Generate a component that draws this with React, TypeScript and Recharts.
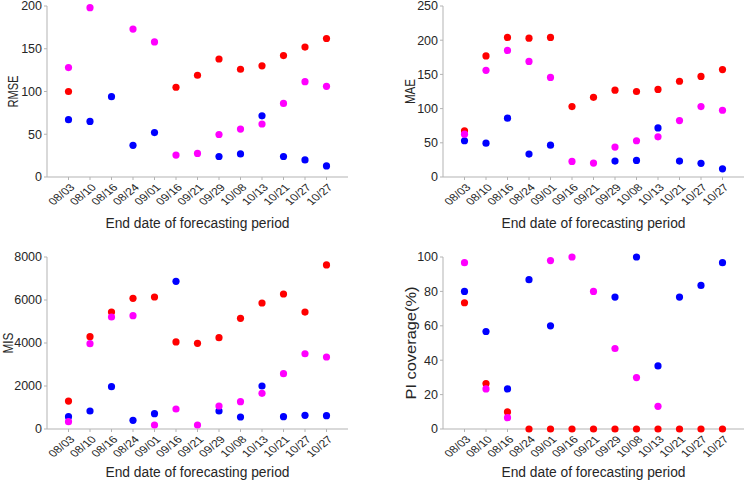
import React from 'react';
import { ScatterChart, Scatter, XAxis, YAxis } from 'recharts';

const dates = ['08/03', '08/10', '08/16', '08/24', '09/01', '09/16', '09/21', '09/29', '10/08', '10/13', '10/21', '10/27', '10/27'];

const rmseRed = [100, null, null, null, null, 105, 119, 138, 126, 130, 142, 152, 162];
const rmseBlue = [67, 65, 94, 37, 52, null, null, 24, 27, 71.5, 24, 20, 13];
const rmseMagenta = [128, 198, null, 173, 158, 25.6, 27.6, 49.7, 56, 62, 86, 111.5, 106];

const maeRed = [67.5, 177, 204, 203, 204, 103, 116.5, 127, 125, 128, 140, 147, 157];
const maeBlue = [53, 49.5, 86, 33.5, 46.6, null, null, 23.3, 24.3, 71.8, 23.3, 20, 12];
const maeMagenta = [62.6, 156, 185, 169, 145.6, 22.8, 20.4, 43.7, 53, 58.7, 82.5, 103, 97.6];

const misRed = [1300, 4295, 5440, 6080, 6140, 4050, 3985, 4250, 5150, 5860, 6280, 5440, 7630];
const misBlue = [574, 837, 1970, 403, 713, 6870, null, 837, 558, 2000, 574, 636, 620];
const misMagenta = [341, 3970, 5210, 5270, 186, 930, 186, 1070, 1270, 1660, 2575, 3500, 3350];

const piRed = [73.4, 26.4, 9.9, 0, 0, 0, 0, 0, 0, 0, 0, 0, 0];
const piBlue = [80, 56.7, 23.3, 86.8, 60, null, null, 76.7, 100, 36.7, 76.7, 83.5, 96.7];
const piMagenta = [96.7, 23.3, 6.6, null, 97.9, 100, 80, 46.8, 29.9, 13.2, null, null, null];

const rmseTicks = [0, 50, 100, 150, 200];
const maeTicks = [0, 50, 100, 150, 200, 250];
const misTicks = [0, 2000, 4000, 6000, 8000];
const piTicks = [0, 20, 40, 60, 80, 100];
const xTicks = dates.map((_, i) => i + 1);

const FONT = '"Liberation Sans", Arial, Helvetica, sans-serif';
const AXIS = '#b3b3b3';
const TEXT = '#262626';

const toPoints = (arr: (number | null)[]) =>
  arr.map((v, i) => (v === null ? null : { x: i + 1, y: v })).filter((p) => p !== null) as { x: number; y: number }[];

const Dot = (props: any) => {
  const { cx, cy, fill } = props;
  if (cx == null || cy == null || isNaN(cx) || isNaN(cy)) return null;
  return <circle cx={cx} cy={cy} r={3.6} fill={fill} />;
};

const XTick = (props: any) => {
  const { x, y, payload } = props;
  const label = dates[payload.value - 1] ?? '';
  const tx = x + 7;
  const ty = y + 7;
  return (
    <text transform={`translate(${tx} ${ty}) scale(1 0.8) rotate(-45)`} x={0} y={0} textAnchor="end" fontSize={12.5} fill={TEXT} fontFamily={FONT}>
      {label}
    </text>
  );
};

const YTitle = (props: any) => {
  const { viewBox, txt, px, len } = props;
  const cy = viewBox.y + viewBox.height / 2;
  return (
    <text x={px} y={cy} transform={`rotate(-90 ${px} ${cy})`} textAnchor="middle" dominantBaseline="central" fontSize={14.5} fill={TEXT} fontFamily={FONT} textLength={len} lengthAdjust="spacingAndGlyphs">
      {txt}
    </text>
  );
};

const XTitle = (props: any) => {
  const { viewBox, off } = props;
  const cx = viewBox.x + viewBox.width / 2;
  const cy = viewBox.y + off;
  return (
    <text x={cx} y={cy} textAnchor="middle" dominantBaseline="central" fontSize={14} fill={TEXT} fontFamily={FONT} textLength={184} lengthAdjust="spacingAndGlyphs">
      End date of forecasting period
    </text>
  );
};

type PanelProps = {
  left: number;
  top: number;
  yWidth: number;
  rightMargin: number;
  topMargin: number;
  xHeight: number;
  xTitleOff: number;
  title: string;
  titleX: number;
  titleLen: number;
  ticks: number[];
  red: (number | null)[];
  blue: (number | null)[];
  magenta: (number | null)[];
};

const Panel = ({ left, top, yWidth, rightMargin, topMargin, xHeight, xTitleOff, title, titleX, titleLen, ticks, red, blue, magenta }: PanelProps) => {
  const W = 373;
  const H = 242;
  return (
    <div style={{ position: 'absolute', left, top, width: W, height: H }}>
      <ScatterChart width={W} height={H} margin={{ top: topMargin, right: rightMargin, bottom: 0, left: 0 }} style={{ overflow: 'visible' }}>
        <XAxis
          type="number"
          dataKey="x"
          domain={[0, 14]}
          ticks={xTicks}
          interval={0}
          allowDecimals={false}
          height={xHeight}
          stroke={AXIS}
          tickSize={3}
          tickMargin={1}
          tickLine={{ stroke: AXIS }}
          tick={<XTick />}
          label={{ content: (p: any) => <XTitle {...p} off={xTitleOff} /> }}
        />
        <YAxis
          type="number"
          dataKey="y"
          domain={[ticks[0], ticks[ticks.length - 1]]}
          ticks={ticks}
          interval={0}
          width={yWidth}
          stroke={AXIS}
          tickSize={3}
          tickMargin={2}
          tickLine={{ stroke: AXIS }}
          tick={{ fontSize: 12.5, fill: TEXT, fontFamily: FONT }}
          label={{ content: (p: any) => <YTitle {...p} txt={title} px={titleX} len={titleLen} /> }}
        />
        <Scatter data={toPoints(red)} fill="#ff0000" shape={<Dot />} isAnimationActive={false} />
        <Scatter data={toPoints(blue)} fill="#0000ff" shape={<Dot />} isAnimationActive={false} />
        <Scatter data={toPoints(magenta)} fill="#ff00ff" shape={<Dot />} isAnimationActive={false} />
      </ScatterChart>
    </div>
  );
};

export default function App() {
  return (
    <div style={{ position: 'absolute', left: 0, top: 0, width: 746, height: 484, background: '#fff', fontFamily: FONT }}>
      <Panel left={0} top={0} yWidth={47} rightMargin={25} topMargin={6} xHeight={65} xTitleOff={46} title="RMSE" titleX={13} titleLen={32} ticks={rmseTicks} red={rmseRed} blue={rmseBlue} magenta={rmseMagenta} />
      <Panel left={373} top={0} yWidth={70} rightMargin={2} topMargin={6} xHeight={65} xTitleOff={46} title="MAE" titleX={37} titleLen={25} ticks={maeTicks} red={maeRed} blue={maeBlue} magenta={maeMagenta} />
      <Panel left={0} top={242} yWidth={47} rightMargin={25} topMargin={15} xHeight={55} xTitleOff={43} title="MIS" titleX={8} titleLen={21} ticks={misTicks} red={misRed} blue={misBlue} magenta={misMagenta} />
      <Panel left={373} top={242} yWidth={70} rightMargin={2} topMargin={15} xHeight={55} xTitleOff={43} title="PI coverage(%)" titleX={38} titleLen={113} ticks={piTicks} red={piRed} blue={piBlue} magenta={piMagenta} />
    </div>
  );
}
